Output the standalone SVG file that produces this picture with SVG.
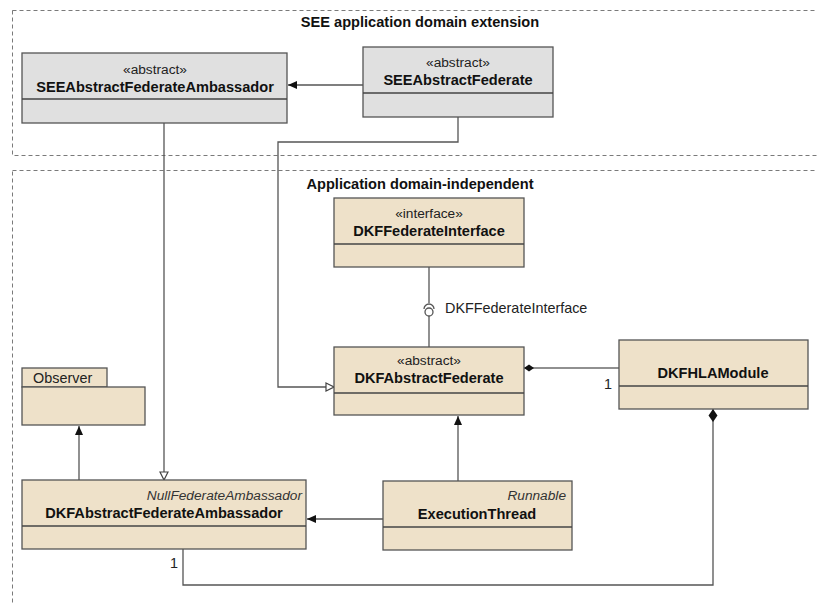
<svg xmlns="http://www.w3.org/2000/svg" width="817" height="603" viewBox="0 0 817 603">
<style>
  .frame{fill:none;stroke:#7a7a7a;stroke-width:1;stroke-dasharray:4,3}
  .title{font-family:"Liberation Sans",Arial,sans-serif;font-size:14.6px;font-weight:bold;fill:#111}
  .box{stroke:#555;stroke-width:1.3}
  .gray{fill:#e0e0e0}
  .beige{fill:#eee1c9}
  .div{stroke:#444;stroke-width:1.3}
  .st{font-family:"Liberation Sans",Arial,sans-serif;font-size:13.7px;fill:#222;text-anchor:middle}
  .nm{font-family:"Liberation Sans",Arial,sans-serif;font-size:14.6px;font-weight:bold;fill:#111;text-anchor:middle}
  .it{font-family:"Liberation Sans",Arial,sans-serif;font-size:13.7px;font-style:italic;fill:#333;text-anchor:end}
  .lbl{font-family:"Liberation Sans",Arial,sans-serif;font-size:14.4px;fill:#222}
  .ln{fill:none;stroke:#555;stroke-width:1.3}
  .lnd{fill:none;stroke:#222;stroke-width:1.2}
</style>
<defs>
  <marker id="filled" markerWidth="10" markerHeight="8" refX="9" refY="4" orient="auto" markerUnits="userSpaceOnUse">
    <path d="M0,0 L9,4 L0,8 Z" fill="#111"/>
  </marker>
  <marker id="hollow" markerWidth="10" markerHeight="10" refX="9" refY="5" orient="auto" markerUnits="userSpaceOnUse">
    <path d="M1,1 L9,5 L1,9 Z" fill="#fff" stroke="#444" stroke-width="1.2"/>
  </marker>
  <marker id="diamond" markerWidth="12" markerHeight="10" refX="11" refY="5" orient="auto" markerUnits="userSpaceOnUse">
    <path d="M1,5 L6,1.5 L11,5 L6,8.5 Z" fill="#111"/>
  </marker>
  <marker id="diamondL" markerWidth="16" markerHeight="12" refX="14" refY="6" orient="auto" markerUnits="userSpaceOnUse">
    <path d="M1,6 L7.5,1.5 L14,6 L7.5,10.5 Z" fill="#111"/>
  </marker>
</defs>

<g id="frames">
  <rect class="frame" x="12.5" y="10.5" width="830" height="145"/>
  <text class="title" x="420" y="27" text-anchor="middle">SEE application domain extension</text>
  <rect class="frame" x="12.5" y="170.5" width="830" height="450"/>
  <text class="title" x="420" y="189" text-anchor="middle">Application domain-independent</text>
</g>

<g id="connectors">
  <path class="ln" d="M363,85 L288,85" marker-end="url(#filled)"/>
  <path class="ln" d="M458,117 L458,142 L278,142 L278,387 L334,387" marker-end="url(#hollow)"/>
  <path class="ln" d="M164,123 L164,480" marker-end="url(#hollow)"/>
  <path class="ln" d="M429,267 L429,303"/>
  <path class="ln" d="M424,309 A5,5 0 0 1 434,309"/>
  <circle cx="429" cy="312" r="4" fill="#fff" stroke="#555" stroke-width="1.3"/>
  <path class="ln" d="M429,316 L429,347"/>
  <text class="lbl" x="445" y="313">DKFFederateInterface</text>
  <path class="lnd" d="M619,368 L524,368" marker-end="url(#diamond)"/>
  <text class="lbl" x="604" y="389">1</text>
  <path class="ln" d="M79,480 L79,426" marker-end="url(#filled)"/>
  <path class="ln" d="M383,519 L307,519" marker-end="url(#filled)"/>
  <path class="ln" d="M458,481 L458,416" marker-end="url(#filled)"/>
  <path class="ln" d="M183,549 L183,585 L713,585 L713,409" marker-end="url(#diamondL)"/>
  <text class="lbl" x="170" y="568">1</text>
</g>

<g id="SEEAbstractFederateAmbassador">
  <rect class="box gray" x="22" y="53" width="265" height="70"/>
  <line class="div" x1="22" y1="99" x2="287" y2="99"/>
  <text class="st" x="155" y="74">«abstract»</text>
  <text class="nm" x="155" y="92">SEEAbstractFederateAmbassador</text>
</g>

<g id="SEEAbstractFederate">
  <rect class="box gray" x="363" y="47" width="190" height="70"/>
  <line class="div" x1="363" y1="93" x2="553" y2="93"/>
  <text class="st" x="458" y="67">«abstract»</text>
  <text class="nm" x="458" y="85">SEEAbstractFederate</text>
</g>

<g id="DKFFederateInterface">
  <rect class="box beige" x="334" y="198" width="190" height="69"/>
  <line class="div" x1="334" y1="244" x2="524" y2="244"/>
  <text class="st" x="429" y="218">«interface»</text>
  <text class="nm" x="429" y="236">DKFFederateInterface</text>
</g>

<g id="DKFAbstractFederate">
  <rect class="box beige" x="334" y="347" width="190" height="68"/>
  <line class="div" x1="334" y1="393" x2="524" y2="393"/>
  <text class="st" x="429" y="365">«abstract»</text>
  <text class="nm" x="429" y="383">DKFAbstractFederate</text>
</g>

<g id="DKFHLAModule">
  <rect class="box beige" x="619" y="340" width="189" height="69"/>
  <line class="div" x1="619" y1="386" x2="808" y2="386"/>
  <text class="nm" x="713" y="378">DKFHLAModule</text>
</g>

<g id="Observer">
  <rect class="box beige" x="22" y="368" width="85" height="19"/>
  <rect class="box beige" x="22" y="387" width="123" height="38"/>
  <text class="lbl" x="33" y="383" fill="#333">Observer</text>
</g>

<g id="DKFAbstractFederateAmbassador">
  <rect class="box beige" x="22" y="480" width="284" height="69"/>
  <line class="div" x1="22" y1="526" x2="306" y2="526"/>
  <text class="it" x="302" y="500">NullFederateAmbassador</text>
  <text class="nm" x="164" y="518">DKFAbstractFederateAmbassador</text>
</g>

<g id="ExecutionThread">
  <rect class="box beige" x="383" y="481" width="189" height="69"/>
  <line class="div" x1="383" y1="527" x2="572" y2="527"/>
  <text class="it" x="566" y="500">Runnable</text>
  <text class="nm" x="477" y="519">ExecutionThread</text>
</g>
</svg>
